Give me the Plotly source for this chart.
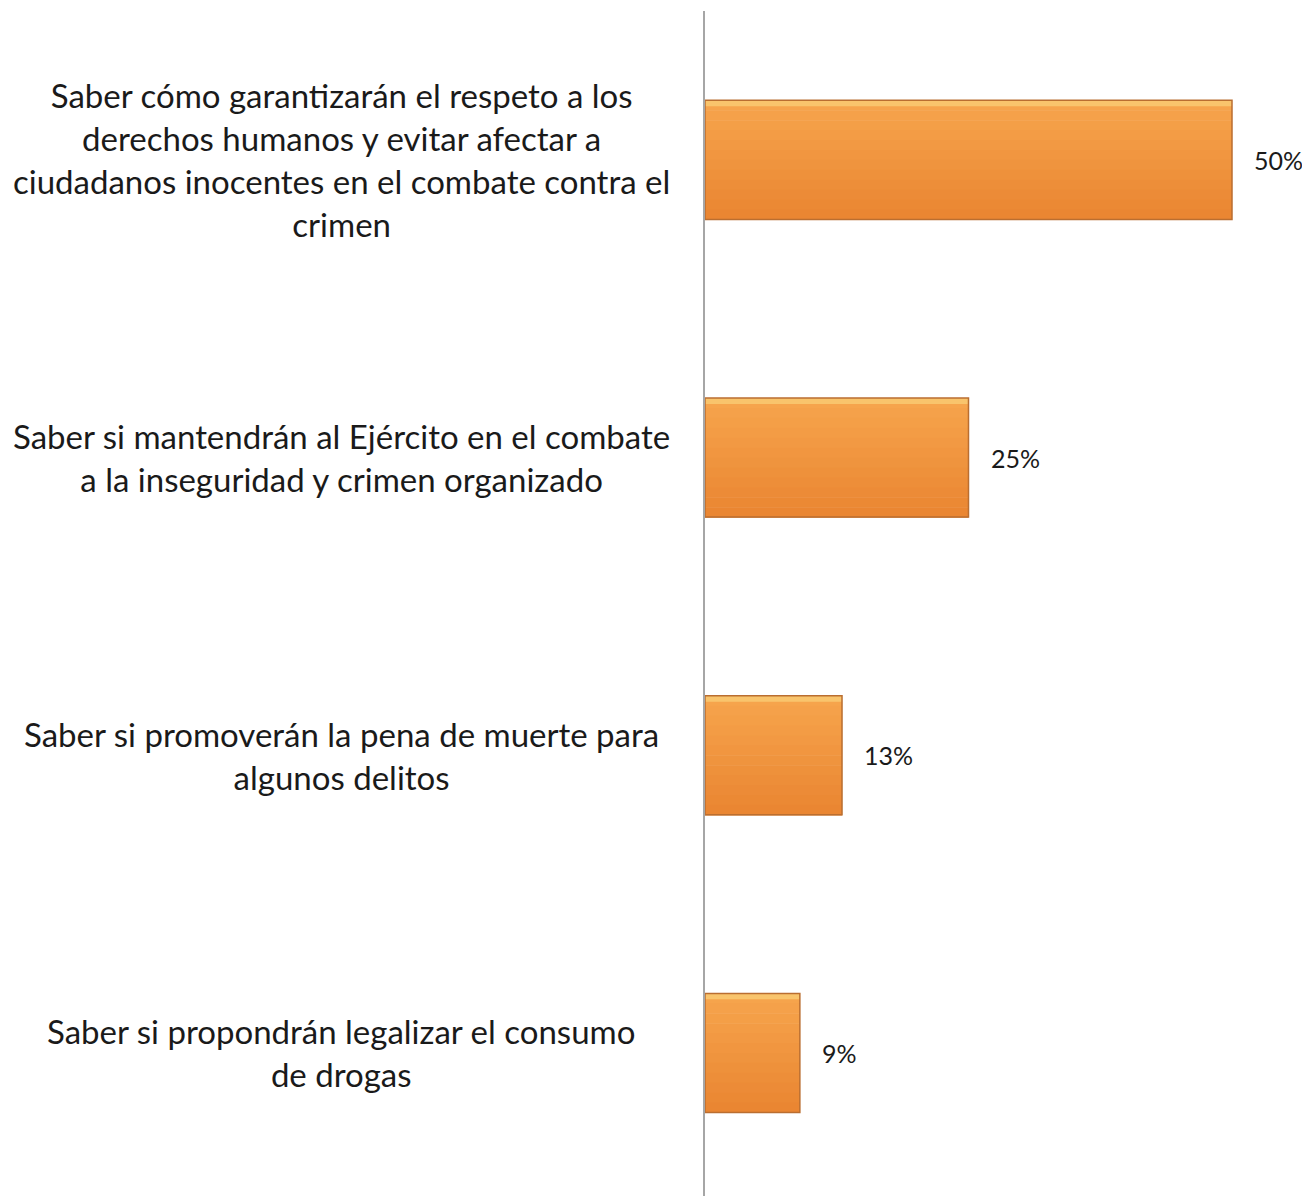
import plotly.graph_objects as go

categories = [
    "Saber cómo garantizarán el respeto a los<br>derechos humanos y evitar afectar a<br>ciudadanos inocentes en el combate contra el<br>crimen",
    "Saber si mantendrán al Ejército en el combate<br>a la inseguridad y crimen organizado",
    "Saber si promoverán la pena de muerte para<br>algunos delitos",
    "Saber si propondrán legalizar el consumo<br>de drogas",
]
values = [50, 25, 13, 9]
value_labels = ["50%", "25%", "13%", "9%"]

# page body has an 8px default margin; compensate
W, H = 1302, 1188
ml, mt = 697, 3
pw = W - ml
ph = H - mt
px_per_unit = 10.54
cat_step = 297.7
label_center = 333
ypos = list(range(len(categories)))

fig = go.Figure()
# bar body drawn as a soft vertical gradient (top lighter -> bottom darker)
n_bands = 12
bar_w = 0.4
top_rgb = (246, 164, 76)
bot_rgb = (234, 134, 50)
for k in range(n_bands):
    t = k / (n_bands - 1)
    col = tuple(round(a + (b - a) * t) for a, b in zip(top_rgb, bot_rgb))
    fig.add_trace(go.Bar(
        x=values, y=ypos, orientation="h",
        width=bar_w / n_bands + 0.002, offset=-bar_w / 2 + k * bar_w / n_bands,
        marker=dict(color="rgb(%d,%d,%d)" % col, line=dict(width=0)),
        hoverinfo="skip",
    ))
# top highlight strip (bevel)
fig.add_trace(go.Bar(
    x=values, y=ypos, orientation="h", width=0.02, offset=-0.2,
    marker=dict(color="#F9C46C", line=dict(width=0)),
    hoverinfo="skip",
))
# outline
fig.add_trace(go.Bar(
    x=values, y=ypos, orientation="h", width=bar_w, offset=-bar_w / 2,
    marker=dict(color="rgba(0,0,0,0)", line=dict(color="#BA6E30", width=1.5)),
    hoverinfo="skip",
))

font = dict(family="Lato, Carlito, Calibri, sans-serif", size=33, color="#1a1a1a")
vfont = dict(family="Lato, Carlito, Calibri, sans-serif", size=25, color="#1a1a1a")
annotations = []
for i, (c, v, lab) in enumerate(zip(categories, values, value_labels)):
    annotations.append(dict(x=(label_center - ml) / pw, xref="paper", y=i, yref="y", text=c,
                            showarrow=False, xanchor="center", yanchor="middle",
                            align="center", font=font))
    annotations.append(dict(x=v, xref="x", y=i, yref="y", text=lab, showarrow=False,
                            xanchor="left", yanchor="middle", xshift=20, font=vfont))

fig.update_layout(
    width=W, height=H,
    margin=dict(l=ml, r=0, t=mt, b=0),
    paper_bgcolor="white", plot_bgcolor="white",
    showlegend=False, barmode="overlay",
    annotations=annotations,
    xaxis=dict(range=[0, pw / px_per_unit], visible=False, showgrid=False, zeroline=False),
    yaxis=dict(range=[-0.5 + ph / cat_step, -0.5], showticklabels=False, showgrid=False,
               zeroline=False, showline=True, linecolor="#A6A6A6", linewidth=1.5,
               ticks=""),
)

fig.write_html("out.html")
